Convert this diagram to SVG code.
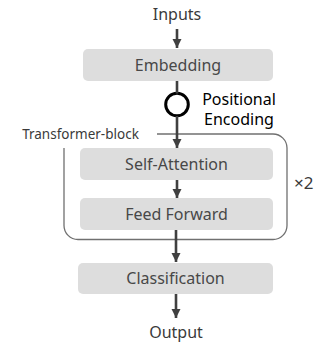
<svg xmlns="http://www.w3.org/2000/svg" width="320" height="345" viewBox="0 0 320 345">
<defs>
<style>
text{font-family:"Noto Sans","DejaVu Sans",sans-serif;font-size:16px;text-anchor:middle}
.box{fill:#dddddd}
.lbl{fill:#484848}
.plain{fill:#3a3a3a}
.conn{stroke:#404040;stroke-width:2.6;fill:none}
.frame{stroke:#707070;stroke-width:1.3;fill:none}
</style>
<marker id="ah" markerUnits="userSpaceOnUse" markerWidth="10" markerHeight="10" viewBox="0 0 10 10" refX="9" refY="5" orient="auto">
<path d="M0,0.5 L9,5 L0,9.5 Z" fill="#404040"/>
</marker>
</defs>
<rect width="320" height="345" fill="#ffffff"/>
<g id="frame">
<path class="frame" d="M157,134 H273 A14,14 0 0 1 287,148 V225.5 A14,14 0 0 1 273,239.5 H78 A14,14 0 0 1 64,225.5 V148"/>
<text x="80.5" y="139" style="font-size:13.5px" class="plain">Transformer-block</text>
<text x="294" y="189" style="font-size:17px;text-anchor:start" class="plain">×2</text>
</g>
<g id="inputs"><text x="177" y="20" class="plain">Inputs</text></g>
<g id="embedding"><rect class="box" x="83" y="49" width="190" height="32" rx="5"/><text x="178" y="70.5" class="lbl">Embedding</text></g>
<g id="positional-encoding">
<circle cx="177" cy="104.5" r="11.3" fill="#ffffff" stroke="#000000" stroke-width="3"/>
<text x="239" y="104.5" fill="#000000">Positional</text>
<text x="239" y="124.5" fill="#000000">Encoding</text>
</g>
<g id="self-attention"><rect class="box" x="80" y="148" width="193" height="32" rx="5"/><text x="176.5" y="169.5" class="lbl">Self-Attention</text></g>
<g id="feed-forward"><rect class="box" x="80" y="198" width="193" height="32" rx="5"/><text x="176.5" y="219.5" class="lbl">Feed Forward</text></g>
<g id="classification"><rect class="box" x="78" y="263" width="195" height="31" rx="5"/><text x="175.5" y="284" class="lbl">Classification</text></g>
<g id="output"><text x="176" y="338" class="plain">Output</text></g>
<g id="connectors">
<line class="conn" x1="177" y1="29" x2="177" y2="48" marker-end="url(#ah)"/>
<line class="conn" x1="177" y1="81" x2="177" y2="93.5"/>
<line class="conn" x1="177" y1="116" x2="177" y2="148" marker-end="url(#ah)"/>
<line class="conn" x1="177" y1="180" x2="177" y2="198" marker-end="url(#ah)"/>
<line class="conn" x1="176" y1="230" x2="176" y2="262" marker-end="url(#ah)"/>
<line class="conn" x1="176" y1="294" x2="176" y2="318" marker-end="url(#ah)"/>
</g>
</svg>
